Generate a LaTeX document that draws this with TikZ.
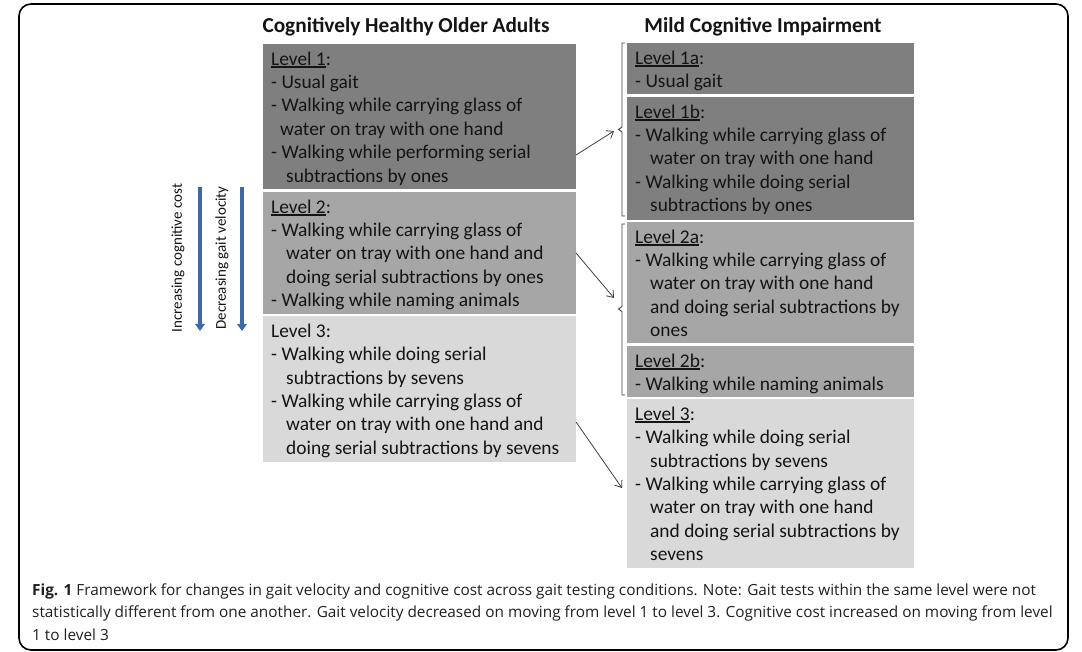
\documentclass[tikz,border=0pt]{standalone}
\usepackage{fontspec}
\setmainfont{Carlito}
\newfontfamily\capfont{Open Sans}
\usetikzlibrary{arrows.meta}
\definecolor{dk}{HTML}{7F7F7F}
\definecolor{md}{HTML}{A6A6A6}
\definecolor{lt}{HTML}{D9D9D9}
\definecolor{arblue}{HTML}{3C6AA5}
\definecolor{ink}{HTML}{141414}
\definecolor{capink}{HTML}{231F20}
\definecolor{lnk}{HTML}{404040}
\newcommand\lvlul[1]{\leavevmode\setbox0\hbox{#1}\rlap{\rule[-2.4pt]{\wd0}{1.3pt}}\box0}
\newcommand\fstrut{\rule{0pt}{16pt}}
\newcommand\ind[1]{\hspace*{#1pt}}
\begin{document}
\begin{tikzpicture}[x=1pt,y=-1pt,
  panel/.style={draw=none, inner sep=0pt, outer sep=0pt, anchor=north west},
  bodytext/.style={inner sep=0pt, anchor=north west, align=left, font=\fontsize{19.4}{23.4}\selectfont, text=ink},
  heading/.style={inner sep=0pt, anchor=base, font=\fontsize{21.3}{25}\selectfont\bfseries, text=ink},
  sidetext/.style={inner sep=0pt, rotate=90, font=\fontsize{15}{18}\selectfont, text=ink},
  bluearrow/.style={draw=arblue, line width=3.4pt, -{Triangle[width=9.5pt,length=7pt]}},
  thinarrow/.style={draw=lnk, line width=0.8pt, -{Straight Barb[length=6pt,width=9pt]}},
  bracket/.style={draw=lnk, line width=0.9pt},
  captext/.style={inner sep=0pt, anchor=north west, align=left, font=\capfont\fontsize{15.35}{22.5}\selectfont, text=capink}
]
\useasboundingbox (0,0) rectangle (1082,652);
\fill[white] (0,0) rectangle (1082,652);
\draw[line width=1.6pt, rounded corners=12pt] (19,4) rectangle (1068,650);

% headings
\node[heading] (h1) at (406,33) {Cognitively Healthy Older Adults};
\node[heading] (h2) at (763,33) {Mild Cognitive Impairment};

% left panels
\node[panel, fill=dk, minimum width=313pt, minimum height=145pt] (L1) at (263,44) {};
\node[panel, fill=md, minimum width=313pt, minimum height=122pt] (L2) at (263,192) {};
\node[panel, fill=lt, minimum width=313pt, minimum height=146pt] (L3) at (263,316) {};

\node[bodytext] (L1t) at (271,49) {\fstrut\lvlul{Level 1}:\\
- Usual gait\\
- Walking while carrying glass of\\
\ind{9}water on tray with one hand\\
- Walking while performing serial\\
\ind{15}subtractions by ones};

\node[bodytext] (L2t) at (271,197) {\fstrut\lvlul{Level 2}:\\
- Walking while carrying glass of\\
\ind{15}water on tray with one hand and\\
\ind{15}doing serial subtractions by ones\\
- Walking while naming animals};

\node[bodytext] (L3t) at (271,321) {\fstrut Level 3:\\
- Walking while doing serial\\
\ind{15}subtractions by sevens\\
- Walking while carrying glass of\\
\ind{15}water on tray with one hand and\\
\ind{15}doing serial subtractions by sevens};

% right panels
\node[panel, fill=dk, minimum width=287pt, minimum height=51pt] (R1a) at (627,43) {};
\node[panel, fill=dk, minimum width=287pt, minimum height=123pt] (R1b) at (627,97) {};
\node[panel, fill=md, minimum width=287pt, minimum height=121pt] (R2a) at (627,222) {};
\node[panel, fill=md, minimum width=287pt, minimum height=51pt] (R2b) at (627,346) {};
\node[panel, fill=lt, minimum width=287pt, minimum height=169pt] (R3) at (627,399) {};

\node[bodytext] (R1at) at (635,48) {\fstrut\lvlul{Level 1a}:\\
- Usual gait};

\node[bodytext] (R1bt) at (635,102) {\fstrut\lvlul{Level 1b}:\\
- Walking while carrying glass of\\
\ind{15}water on tray with one hand\\
- Walking while doing serial\\
\ind{15}subtractions by ones};

\node[bodytext] (R2at) at (635,227) {\fstrut\lvlul{Level 2a}:\\
- Walking while carrying glass of\\
\ind{15}water on tray with one hand\\
\ind{15}and doing serial subtractions by\\
\ind{15}ones};

\node[bodytext] (R2bt) at (635,351) {\fstrut\lvlul{Level 2b}:\\
- Walking while naming animals};

\node[bodytext] (R3t) at (635,404) {\fstrut\lvlul{Level 3}:\\
- Walking while doing serial\\
\ind{15}subtractions by sevens\\
- Walking while carrying glass of\\
\ind{15}water on tray with one hand\\
\ind{15}and doing serial subtractions by\\
\ind{15}sevens};

% brackets
\draw[bracket] (625,43) -- (622,43) -- (622,127) -- (618.5,129.5) -- (622,132) -- (622,216) -- (625,216);
\draw[bracket] (625,224) -- (622,224) -- (622,306.5) -- (618.5,309) -- (622,311.5) -- (622,395) -- (625,395);

% thin arrows
\coordinate (a1s) at (576,155);
\coordinate (a1e) at (614,131);
\coordinate (a2s) at (576,253);
\coordinate (a2e) at (614,298);
\coordinate (a3s) at (576,422);
\coordinate (a3e) at (622,488);
\draw[thinarrow] (a1s) -- (a1e);
\draw[thinarrow] (a2s) -- (a2e);
\draw[thinarrow] (a3s) -- (a3e);

% side arrows and labels
\coordinate (bA1) at (200,187);
\coordinate (bA2) at (200,331);
\coordinate (bB1) at (242,187);
\coordinate (bB2) at (242,331);
\draw[bluearrow] (bA1) -- (bA2);
\draw[bluearrow] (bB1) -- (bB2);
\node[sidetext] (s1) at (178,258) {Increasing cognitive cost};
\node[sidetext] (s2) at (222,258) {Decreasing gait velocity};

% caption
\node[captext] (cap) at (32,581) {\rule{0pt}{14pt}\textbf{Fig. 1} Framework for changes in gait velocity and cognitive cost across gait testing conditions. Note: Gait tests within the same level were not\\
statistically different from one another. Gait velocity decreased on moving from level 1 to level 3. Cognitive cost increased on moving from level\\
1 to level 3};
\end{tikzpicture}
\end{document}
